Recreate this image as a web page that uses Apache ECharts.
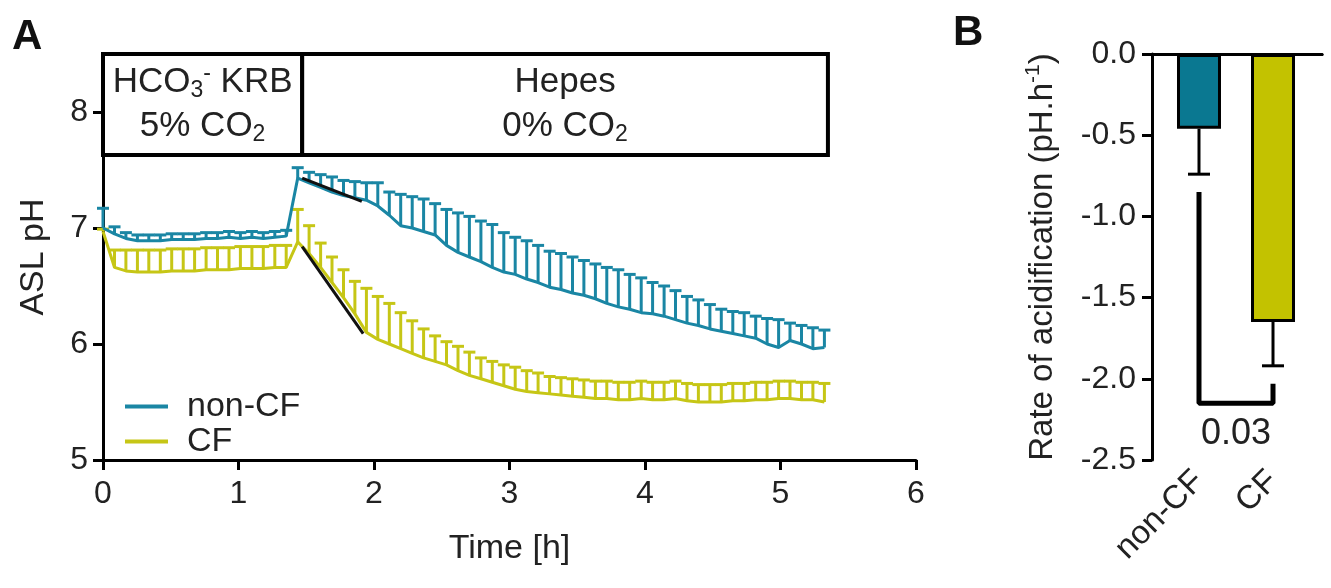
<!DOCTYPE html>
<html>
<head>
<meta charset="UTF-8">
<title>ASL pH</title>
<script src="https://cdn.jsdelivr.net/npm/echarts@6/dist/echarts.min.js"></script>
<style>
  html, body { margin: 0; padding: 0; background: #fff; }
  #main { width: 1331px; height: 588px; }
</style>
</head>
<body>
<div id="main"></div>
<script>
// ---- panel A: ASL pH over time (mean + SEM, ~5 min sampling) ----
var timeH = [0, 0.085, 0.169, 0.254, 0.338, 0.423, 0.507, 0.592, 0.676, 0.761,
  0.845, 0.93, 1.014, 1.099, 1.183, 1.268, 1.352, 1.437, 1.521, 1.606,
  1.69, 1.775, 1.859, 1.944, 2.028, 2.113, 2.197, 2.282, 2.366, 2.451,
  2.535, 2.62, 2.704, 2.789, 2.873, 2.958, 3.042, 3.127, 3.211, 3.296,
  3.38, 3.465, 3.549, 3.634, 3.718, 3.803, 3.887, 3.972, 4.056, 4.141,
  4.225, 4.31, 4.394, 4.479, 4.563, 4.648, 4.732, 4.817, 4.901, 4.986,
  5.07, 5.155, 5.239, 5.324];

var nonCfMean = [7.00, 6.95, 6.91, 6.89, 6.89, 6.89, 6.90, 6.90, 6.90, 6.91, 6.91, 6.92, 6.91, 6.92, 6.91, 6.92, 6.93,
  7.43, 7.39, 7.35, 7.31, 7.28, 7.26, 7.24, 7.19, 7.11, 7.02, 7.00, 6.97, 6.94, 6.85, 6.79, 6.75, 6.71,
  6.66, 6.62, 6.60, 6.56, 6.53, 6.49, 6.47, 6.44, 6.42, 6.39, 6.35, 6.32, 6.30, 6.27, 6.26, 6.24, 6.21,
  6.18, 6.16, 6.13, 6.11, 6.09, 6.07, 6.05, 6.00, 5.97, 6.03, 6.00, 5.96, 5.97];
var nonCfSem = [0.17, 0.06, 0.05, 0.05, 0.05, 0.05, 0.05, 0.05, 0.05, 0.05, 0.05, 0.05, 0.05, 0.05, 0.05, 0.05, 0.05,
  0.09, 0.09, 0.11, 0.13, 0.13, 0.14, 0.15, 0.20, 0.20, 0.27, 0.27, 0.28, 0.27, 0.31, 0.34, 0.35, 0.35,
  0.37, 0.34, 0.32, 0.33, 0.32, 0.31, 0.31, 0.31, 0.30, 0.30, 0.31, 0.32, 0.30, 0.30, 0.27, 0.26, 0.25,
  0.23, 0.22, 0.21, 0.19, 0.19, 0.20, 0.19, 0.22, 0.24, 0.15, 0.16, 0.18, 0.15];

var cfMean = [6.97, 6.66, 6.63, 6.62, 6.62, 6.62, 6.63, 6.63, 6.63, 6.64, 6.64, 6.64, 6.65, 6.65, 6.65, 6.66, 6.66,
  6.88, 6.78, 6.66, 6.53, 6.40, 6.26, 6.10, 6.04, 6.00, 5.96, 5.92, 5.88, 5.85, 5.82, 5.77, 5.73, 5.70,
  5.67, 5.64, 5.61, 5.59, 5.58, 5.57, 5.56, 5.55, 5.54, 5.53, 5.53, 5.52, 5.52, 5.53, 5.52, 5.52, 5.53,
  5.51, 5.50, 5.50, 5.50, 5.51, 5.51, 5.52, 5.52, 5.53, 5.53, 5.52, 5.52, 5.50];
var cfSem = [0.02, 0.15, 0.18, 0.19, 0.19, 0.19, 0.19, 0.19, 0.19, 0.19, 0.19, 0.19, 0.19, 0.19, 0.19, 0.19, 0.19,
  0.28, 0.24, 0.21, 0.22, 0.24, 0.28, 0.38, 0.37, 0.35, 0.31, 0.28, 0.25, 0.22, 0.20, 0.21, 0.20, 0.18,
  0.18, 0.18, 0.19, 0.18, 0.17, 0.15, 0.15, 0.15, 0.15, 0.15, 0.15, 0.15, 0.15, 0.15, 0.15, 0.15, 0.15,
  0.15, 0.15, 0.15, 0.15, 0.15, 0.15, 0.15, 0.15, 0.15, 0.15, 0.15, 0.15, 0.16];

// initial acidification slopes (black lines)
var nonCfFit = [[1.47, 7.43], [1.91, 7.23]];
var cfFit = [[1.47, 6.84], [1.92, 6.09]];

// buffer condition boxes on top
var phaseStart = [0, 1.47];
var phaseEnd = [1.47, 5.35];
var phaseLabels = ['{n|HCO}{sub|3}{sup|-}{n| KRB}\n{n|5% CO}{sub|2}', '{n|Hepes}\n{n|0% CO}{sub|2}'];
var boxBottom = 7.63, boxTop = 8.5;

// ---- panel B: rate of acidification ----
var groups = ['non-CF', 'CF'];
var rateMean = [-0.46, -1.65];
var rateSem = [0.28, 0.27];
var bracket = [[1, -0.85], [1, -2.15], [2, -2.15], [2, -2.03]];
var pValue = '0.03';
var pValuePos = [1.5, -2.34];

var FONT = 'Liberation Sans';
var BLUE = '#1a86a4', YELLOW = '#c6c616';
var BAR_BLUE = '#0a7891', BAR_YELLOW = '#c3c200';

var myChart = echarts.init(document.getElementById('main'));

function zip3(a, b, c) {
  var out = [];
  for (var i = 0; i < a.length; i++) out.push([a[i], b[i], c[i]]);
  return out;
}
function zip2(a, b) {
  var out = [];
  for (var i = 0; i < a.length; i++) out.push([a[i], b[i]]);
  return out;
}

// error bar: stem from mean to mean+err and a cap
function errRender(capHalf, width, color) {
  return function (params, api) {
    var x = api.value(0), m = api.value(1), e = api.value(2);
    var p0 = api.coord([x, m]);
    var p1 = api.coord([x, m + e]);
    return {
      type: 'group',
      children: [
        { type: 'line', shape: { x1: p0[0], y1: p0[1], x2: p1[0], y2: p1[1] }, style: { stroke: color, lineWidth: width } },
        { type: 'line', shape: { x1: p1[0] - capHalf, y1: p1[1], x2: p1[0] + capHalf, y2: p1[1] }, style: { stroke: color, lineWidth: width } }
      ]
    };
  };
}

var areas = [];
for (var k = 0; k < phaseLabels.length; k++) {
  areas.push([{ xAxis: phaseStart[k], yAxis: boxBottom, name: phaseLabels[k] }, { xAxis: phaseEnd[k], yAxis: boxTop }]);
}

var barData = [];
var barErr = [];
for (var j = 0; j < groups.length; j++) {
  barData.push({ value: [j + 1, rateMean[j]], itemStyle: { color: j === 0 ? BAR_BLUE : BAR_YELLOW } });
  barErr.push([j + 1, rateMean[j], -rateSem[j]]);
}

var axisLineStyle = { color: '#000', width: 3 };
var tickStyle = { color: '#000', width: 3 };

var option = {
  animation: false,
  textStyle: { fontFamily: FONT },
  graphic: [
    { type: 'text', left: 12, top: 16, style: { text: 'A', fontFamily: FONT, fontWeight: 'bold', fontSize: 42, fill: '#111' } },
    { type: 'text', left: 953, top: 12, style: { text: 'B', fontFamily: FONT, fontWeight: 'bold', fontSize: 42, fill: '#111' } }
  ],
  legend: {
    orient: 'vertical',
    left: 120,
    top: 384,
    itemWidth: 43,
    itemHeight: 4,
    itemGap: 0,
    icon: 'rect',
    data: ['non-CF', 'CF'],
    textStyle: { fontFamily: FONT, fontSize: 34, color: '#222', padding: [0, 0, 0, 14], lineHeight: 35 }
  },
  grid: [
    { left: 103, right: 415, top: 54, bottom: 128, outerBoundsMode: 'none' },
    { left: 1152, right: 9, top: 54, bottom: 128, outerBoundsMode: 'none' }
  ],
  xAxis: [
    {
      gridIndex: 0, type: 'value', min: 0, max: 6, interval: 1,
      name: 'Time [h]', nameLocation: 'middle', nameGap: 72,
      nameTextStyle: { fontFamily: FONT, fontSize: 34, color: '#222' },
      axisLine: { lineStyle: axisLineStyle },
      axisTick: { length: 10, lineStyle: tickStyle },
      axisLabel: { margin: 18, color: '#222', fontFamily: FONT, fontSize: 32 },
      splitLine: { show: false }
    },
    {
      gridIndex: 1, type: 'value', min: 0.365, max: 2.662,
      axisLine: { lineStyle: axisLineStyle },
      axisTick: { length: 10, lineStyle: tickStyle, customValues: [1, 2] },
      axisLabel: {
        customValues: [1, 2], rotate: 45, margin: 16, color: '#222', fontFamily: FONT, fontSize: 33,
        formatter: function (v) { return groups[Math.round(v) - 1] || ''; }
      },
      splitLine: { show: false }
    },
    {
      gridIndex: 1, type: 'value', position: 'top', min: 0.365, max: 2.662,
      axisLine: { lineStyle: axisLineStyle },
      axisTick: { show: false }, axisLabel: { show: false }, splitLine: { show: false }
    }
  ],
  yAxis: [
    {
      gridIndex: 0, type: 'value', min: 5, max: 8.5, interval: 1,
      name: 'ASL pH', nameLocation: 'middle', nameGap: 52,
      nameTextStyle: { fontFamily: FONT, fontSize: 34, color: '#222' },
      axisLine: { lineStyle: axisLineStyle },
      axisTick: { length: 10, lineStyle: tickStyle, customValues: [5, 6, 7, 8] },
      axisLabel: { customValues: [5, 6, 7, 8], margin: 15, color: '#222', fontFamily: FONT, fontSize: 32 },
      splitLine: { show: false }
    },
    {
      gridIndex: 1, type: 'value', min: -2.5, max: 0, interval: 0.5,
      name: '{n|Rate of acidification (pH.h}{sup|-1}{n|)}', nameLocation: 'middle', nameGap: 90,
      nameTextStyle: {
        color: '#222',
        rich: {
          n: { fontFamily: FONT, fontSize: 33, color: '#222' },
          sup: { fontFamily: FONT, fontSize: 21, color: '#222', padding: [0, 0, 18, 0] }
        }
      },
      axisLine: { lineStyle: axisLineStyle },
      axisTick: { length: 10, lineStyle: tickStyle },
      axisLabel: { margin: 16, color: '#222', fontFamily: FONT, fontSize: 32, formatter: function (v) { return v.toFixed(1); } },
      splitLine: { show: false }
    }
  ],
  series: [
    {
      name: 'CF', type: 'line', xAxisIndex: 0, yAxisIndex: 0,
      data: zip2(timeH, cfMean), showSymbol: false, color: YELLOW,
      lineStyle: { width: 3, color: YELLOW }, z: 3,
      markArea: {
        silent: true,
        itemStyle: { color: '#fff', borderColor: '#000', borderWidth: 4 },
        label: {
          show: true, position: 'inside', lineHeight: 44,
          formatter: function (p) { return p.name; },
          rich: {
            n: { fontFamily: FONT, fontSize: 35, color: '#222', lineHeight: 44 },
            sub: { fontFamily: FONT, fontSize: 23, color: '#222', padding: [16, 0, 0, 0] },
            sup: { fontFamily: FONT, fontSize: 23, color: '#222', padding: [0, 0, 18, 0] }
          }
        },
        data: areas
      }
    },
    {
      type: 'custom', xAxisIndex: 0, yAxisIndex: 0, z: 3,
      renderItem: errRender(6, 3, YELLOW), data: zip3(timeH, cfMean, cfSem)
    },
    {
      name: 'non-CF', type: 'line', xAxisIndex: 0, yAxisIndex: 0,
      data: zip2(timeH, nonCfMean), showSymbol: false, color: BLUE,
      lineStyle: { width: 3, color: BLUE }, z: 4
    },
    {
      type: 'custom', xAxisIndex: 0, yAxisIndex: 0, z: 4,
      renderItem: errRender(6, 3, BLUE), data: zip3(timeH, nonCfMean, nonCfSem)
    },
    {
      type: 'line', xAxisIndex: 0, yAxisIndex: 0, data: nonCfFit, showSymbol: false, z: 6,
      lineStyle: { width: 3, color: '#111' }
    },
    {
      type: 'line', xAxisIndex: 0, yAxisIndex: 0, data: cfFit, showSymbol: false, z: 6,
      lineStyle: { width: 3, color: '#111' }
    },
    // panel B
    {
      type: 'bar', xAxisIndex: 1, yAxisIndex: 1, barWidth: 44, data: barData,
      itemStyle: { borderColor: '#000', borderWidth: 3 }
    },
    {
      type: 'custom', xAxisIndex: 1, yAxisIndex: 1, z: 4,
      renderItem: errRender(11, 3, '#000'), data: barErr
    },
    {
      type: 'line', xAxisIndex: 1, yAxisIndex: 1, data: bracket, showSymbol: false,
      lineStyle: { width: 5, color: '#000' }
    },
    {
      type: 'custom', xAxisIndex: 1, yAxisIndex: 1, z: 5,
      data: [pValuePos],
      renderItem: function (params, api) {
        var p = api.coord([api.value(0), api.value(1)]);
        return {
          type: 'text', x: p[0], y: p[1],
          style: { text: pValue, fontFamily: FONT, fontSize: 36, fill: '#222', align: 'center', verticalAlign: 'middle' }
        };
      }
    }
  ]
};

myChart.setOption(option, true);
</script>
</body>
</html>
